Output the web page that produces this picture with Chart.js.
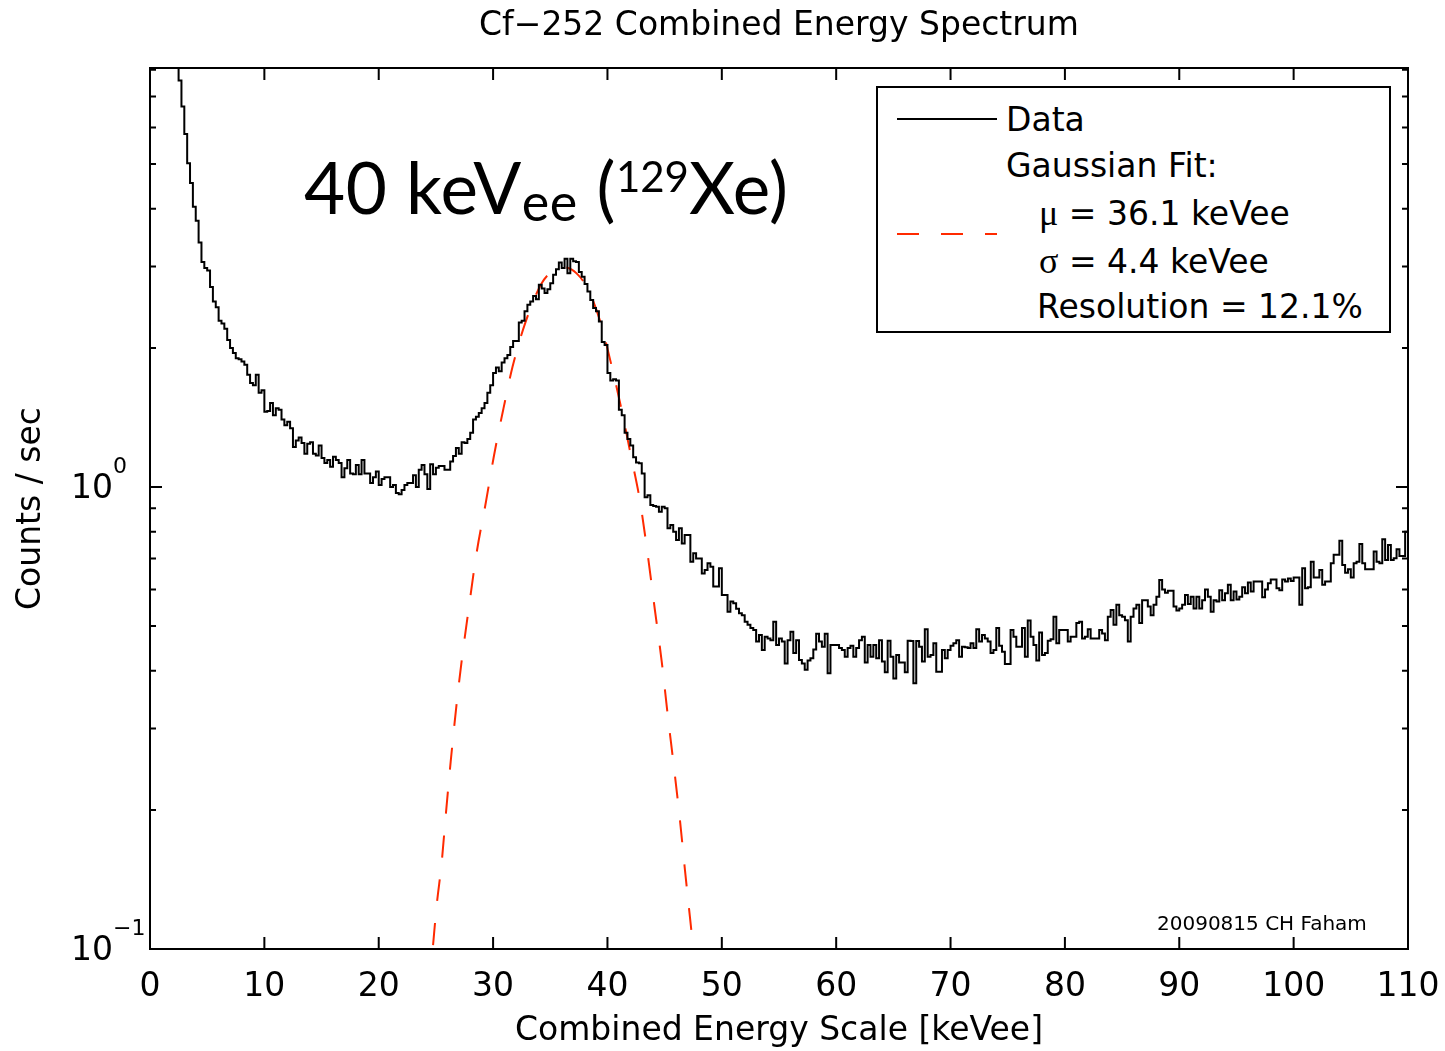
<!DOCTYPE html>
<html>
<head>
<meta charset="utf-8">
<title>Cf-252 Combined Energy Spectrum</title>
<script src="https://cdn.jsdelivr.net/npm/chart.js@4.4.1/dist/chart.umd.min.js"></script>
<style>
  html, body { margin: 0; padding: 0; background: #fff; }
  #wrap { position: relative; width: 1445px; height: 1051px; overflow: hidden; }
  #chart { position: absolute; left: 0; top: 0; }
  .txt { position: absolute; white-space: nowrap; color: #000; font-family: "DejaVu Sans", sans-serif; }
  #note { left: 304px; top: 151px; font-family: Lato, sans-serif; font-size: 71px; line-height: 71px; letter-spacing: 0.5px; }
  #note .sub { font-size: 52px; position: relative; top: 7px; }
  #note .sup { font-size: 42px; position: relative; top: -22px; letter-spacing: 0; }
  #legendBox { position: absolute; left: 876px; top: 86px; width: 515px; height: 247px; box-sizing: border-box; border: 2px solid #000; background: #fff; }
  .row { font-size: 33px; line-height: 40px; }
  .greek { font-family: "Liberation Serif", serif; font-size: 36px; }
  #dataSample { position: absolute; left: 897px; top: 118px; width: 100px; height: 2px; background: #000; }
  #fitSample { position: absolute; left: 897px; top: 233px; width: 100px; height: 2px;
    background: repeating-linear-gradient(to right, #ff2a00 0 22px, transparent 22px 44px); }
  #stamp { left: 1157px; top: 911px; font-size: 20px; line-height: 24px; }
</style>
</head>
<body>
<div id="wrap">
  <canvas id="chart" width="1445" height="1051"></canvas>
  <div id="note" class="txt">40 keV<span class="sub">ee</span> (<span class="sup">129</span>Xe)</div>
  <div id="legendBox"></div>
  <div id="dataSample"></div>
  <div id="fitSample"></div>
  <div class="txt row" style="left:1006px; top:100px;">Data</div>
  <div class="txt row" style="left:1006px; top:146px;">Gaussian Fit:</div>
  <div class="txt row" style="left:1039px; top:193px;"><span class="greek">μ</span> = 36.1 keVee</div>
  <div class="txt row" style="left:1039px; top:241px;"><span class="greek">σ</span> = 4.4 keVee</div>
  <div class="txt row" style="left:1037px; top:287px;">Resolution = 12.1%</div>
  <div id="stamp" class="txt">20090815 CH Faham</div>
</div>
<script>
const titleText = "Cf\u2212252 Combined Energy Spectrum";
const xTitle = "Combined Energy Scale [keVee]";
const yTitle = "Counts / sec";

// histogram, 0.25 keVee bins starting at 0
const binWidth = 0.25;
const countsPerSec = [
  80, 60, 45, 35, 28, 22, 18, 15,
  12, 9.5, 7.58, 6.66, 5.81, 5.02, 4.55, 4.04,
  3.77, 3.38, 3.07, 2.98, 2.94, 2.71, 2.52, 2.45,
  2.29, 2.26, 2.20, 2.08, 2.00, 1.95, 1.90, 1.89,
  1.87, 1.84, 1.75, 1.68, 1.66, 1.75, 1.60, 1.62,
  1.455, 1.46, 1.52, 1.43, 1.48, 1.47, 1.40, 1.36,
  1.385, 1.34, 1.22, 1.26, 1.28, 1.245, 1.18, 1.24,
  1.25, 1.18, 1.17, 1.23, 1.155, 1.127, 1.144, 1.106,
  1.163, 1.144, 1.127, 1.05, 1.098, 1.144, 1.07, 1.065,
  1.116, 1.065, 1.144, 1.07, 1.07, 1.02, 1.05, 1.08,
  1.01, 1.04, 1.05, 1.05, 1.0, 1.01, 0.97, 0.965,
  0.985, 1.01, 1.02, 1.02, 1.06, 1.0, 1.09, 1.116,
  1.065, 0.99, 1.12, 1.065, 1.10, 1.11, 1.11, 1.09,
  1.09, 1.135, 1.167, 1.215, 1.18, 1.25, 1.245, 1.27,
  1.31, 1.40, 1.42, 1.446, 1.48, 1.52, 1.60, 1.66,
  1.765, 1.815, 1.78, 1.86, 1.90, 1.93, 2.01, 2.07,
  2.07, 2.27, 2.29, 2.40, 2.48, 2.52, 2.59, 2.55,
  2.74, 2.69, 2.63, 2.68, 2.76, 2.88, 2.96, 3.06,
  2.98, 3.12, 2.90, 3.12, 3.08, 3.07, 2.92, 2.85,
  2.75, 2.65, 2.54, 2.44, 2.40, 2.28, 2.06, 2.03,
  1.765, 1.70, 1.71, 1.70, 1.47, 1.43, 1.31, 1.27,
  1.23, 1.16, 1.13, 1.125, 1.07, 0.95, 0.96, 0.914,
  0.91, 0.906, 0.884, 0.906, 0.899, 0.814, 0.827, 0.80,
  0.768, 0.814, 0.755, 0.787, 0.787, 0.689, 0.719, 0.70,
  0.70, 0.65, 0.661, 0.684, 0.672, 0.609, 0.609, 0.667,
  0.584, 0.584, 0.537, 0.565, 0.56, 0.545, 0.533, 0.528,
  0.511, 0.503, 0.495, 0.49, 0.463, 0.478, 0.444, 0.474,
  0.47, 0.466, 0.511, 0.455, 0.47, 0.463, 0.415, 0.466,
  0.486, 0.437, 0.466, 0.422, 0.415, 0.402, 0.421, 0.426,
  0.445, 0.481, 0.463, 0.451, 0.481, 0.395, 0.455, 0.455,
  0.455, 0.448, 0.444, 0.429, 0.448, 0.453, 0.429, 0.448,
  0.466, 0.474, 0.417, 0.455, 0.429, 0.455, 0.426, 0.466,
  0.419, 0.397, 0.465, 0.429, 0.385, 0.433, 0.417, 0.417,
  0.397, 0.465, 0.464, 0.376, 0.464, 0.451, 0.419, 0.492,
  0.429, 0.433, 0.459, 0.398, 0.398, 0.444, 0.426, 0.444,
  0.453, 0.459, 0.466, 0.429, 0.451, 0.45, 0.448, 0.459,
  0.448, 0.492, 0.463, 0.478, 0.47, 0.463, 0.437, 0.444,
  0.495, 0.453, 0.44, 0.414, 0.414, 0.49, 0.474, 0.451,
  0.451, 0.495, 0.429, 0.514, 0.474, 0.455, 0.421, 0.484,
  0.433, 0.437, 0.465, 0.468, 0.524, 0.459, 0.49, 0.49,
  0.49, 0.463, 0.474, 0.474, 0.508, 0.511, 0.47, 0.474,
  0.492, 0.47, 0.47, 0.47, 0.49, 0.482, 0.466, 0.524,
  0.542, 0.503, 0.556, 0.528, 0.524, 0.515, 0.463, 0.524,
  0.546, 0.556, 0.508, 0.569, 0.569, 0.551, 0.528, 0.556,
  0.579, 0.629, 0.6, 0.59, 0.596, 0.596, 0.551, 0.54,
  0.546, 0.556, 0.584, 0.558, 0.579, 0.546, 0.579, 0.546,
  0.569, 0.6, 0.579, 0.537, 0.569, 0.565, 0.598, 0.569,
  0.589, 0.614, 0.569, 0.594, 0.571, 0.579, 0.607, 0.589,
  0.621, 0.594, 0.624, 0.624, 0.624, 0.577, 0.6, 0.619,
  0.631, 0.631, 0.604, 0.598, 0.631, 0.624, 0.634, 0.626,
  0.637, 0.637, 0.556, 0.667, 0.604, 0.607, 0.689, 0.637,
  0.637, 0.661, 0.614, 0.624, 0.624, 0.684, 0.713, 0.713,
  0.765, 0.678, 0.652, 0.664, 0.637, 0.684, 0.689, 0.753,
  0.684, 0.664, 0.664, 0.664, 0.725, 0.689, 0.684, 0.771,
  0.695, 0.749, 0.695, 0.701, 0.733, 0.709, 0.709, 0.80,
];

// gaussian fit curve
const fitEnergy = [24.4, 24.72, 25.07, 25.5, 25.88, 26.29, 26.82, 27.25, 27.84, 28.57, 29.38, 30.08, 30.9, 31.7, 32.8, 34.25, 35.56, 36.2, 37.3, 38.33, 39.35, 40.57, 41.39, 41.97, 42.85, 43.49, 44.16, 44.74, 45.32, 45.76, 46.35, 46.78, 47.51, 47.85];
const fitCounts = [0.082, 0.1, 0.1245, 0.1535, 0.197, 0.254, 0.341, 0.42, 0.539, 0.723, 0.93, 1.17, 1.476, 1.82, 2.26, 2.76, 2.97, 2.99, 2.9, 2.67, 2.29, 1.74, 1.41, 1.196, 0.93, 0.723, 0.539, 0.42, 0.313, 0.254, 0.189, 0.148, 0.1, 0.083];

const xTickValues = [0, 10, 20, 30, 40, 50, 60, 70, 80, 90, 100, 110];
const yMajorTicks = [0.1, 1];
const yExponents = ["\u22121", "0"];
const yMinorTicks = [0.2, 0.3, 0.4, 0.5, 0.6, 0.7, 0.8, 0.9, 2, 3, 4, 5, 6, 7, 8];

const font = "'DejaVu Sans', sans-serif";

const histPoints = countsPerSec.map((v, i) => ({ x: i * binWidth, y: v }));
histPoints.push({ x: countsPerSec.length * binWidth, y: countsPerSec[countsPerSec.length - 1] });
const fitPoints = fitEnergy.map((e, i) => ({ x: e, y: fitCounts[i] }));

// frame with inward ticks on all four sides, the 10^n labels and the title
const frameAndTicks = {
  id: "frameAndTicks",
  afterDatasetsDraw(chart) {
    const { ctx, chartArea: a, scales } = chart;
    const x = scales.x;
    const y = scales.y;
    ctx.save();
    ctx.strokeStyle = "#000";
    ctx.lineWidth = 2;
    ctx.beginPath();
    xTickValues.forEach((v) => {
      const px = x.getPixelForValue(v);
      ctx.moveTo(px, a.bottom); ctx.lineTo(px, a.bottom - 12);
      ctx.moveTo(px, a.top); ctx.lineTo(px, a.top + 12);
    });
    yMajorTicks.forEach((v) => {
      const py = y.getPixelForValue(v);
      ctx.moveTo(a.left, py); ctx.lineTo(a.left + 12, py);
      ctx.moveTo(a.right, py); ctx.lineTo(a.right - 12, py);
    });
    yMinorTicks.forEach((v) => {
      const py = y.getPixelForValue(v);
      ctx.moveTo(a.left, py); ctx.lineTo(a.left + 6, py);
      ctx.moveTo(a.right, py); ctx.lineTo(a.right - 6, py);
    });
    ctx.stroke();
    ctx.strokeRect(a.left, a.top, a.right - a.left, a.bottom - a.top);

    ctx.fillStyle = "#000";
    yMajorTicks.forEach((v, i) => {
      const py = y.getPixelForValue(v);
      ctx.font = `33px ${font}`;
      ctx.textAlign = "right";
      ctx.textBaseline = "middle";
      ctx.fillText("10", a.left - 37, py + 2);
      ctx.font = `22px ${font}`;
      ctx.textAlign = "left";
      ctx.fillText(yExponents[i], a.left - 37, py - 20);
    });

    ctx.font = `33px ${font}`;
    ctx.textAlign = "center";
    ctx.textBaseline = "middle";
    ctx.fillText(titleText, (a.left + a.right) / 2, a.top - 42);
    ctx.restore();
  },
};

new Chart(document.getElementById("chart"), {
  type: "line",
  data: {
    datasets: [
      {
        label: "Data",
        data: histPoints,
        stepped: true,
        borderColor: "#000",
        borderWidth: 2,
        pointRadius: 0,
        fill: false,
      },
      {
        label: "Gaussian Fit",
        data: fitPoints,
        borderColor: "#ff2a00",
        borderWidth: 2,
        borderDash: [22, 22],
        pointRadius: 0,
        cubicInterpolationMode: "monotone",
        fill: false,
      },
    ],
  },
  options: {
    responsive: false,
    animation: false,
    devicePixelRatio: 1,
    layout: { padding: { left: 0, right: 37, top: 68, bottom: 0 } },
    plugins: {
      legend: { display: false },
      tooltip: { enabled: false },
      title: { display: false },
    },
    scales: {
      x: {
        type: "linear",
        min: 0,
        max: 110,
        grid: { display: false },
        border: { display: false },
        ticks: { stepSize: 10, color: "#000", font: { family: font, size: 33 }, padding: 11, maxRotation: 0, autoSkip: false },
        title: { display: true, text: xTitle, color: "#000", font: { family: font, size: 33 }, padding: { top: 0, bottom: 0 } },
        afterFit(scale) {
          scale.height = 102;
          scale.paddingLeft = 0;
          scale.paddingRight = 0;
        },
      },
      y: {
        type: "logarithmic",
        min: 0.1,
        max: 8.07,
        grid: { display: false },
        border: { display: false },
        ticks: { display: false },
        title: { display: true, text: yTitle, color: "#000", font: { family: font, size: 33 }, padding: { top: 12, bottom: 0 } },
        afterFit(scale) {
          scale.width = 150;
        },
      },
    },
  },
  plugins: [frameAndTicks],
});
</script>
</body>
</html>
